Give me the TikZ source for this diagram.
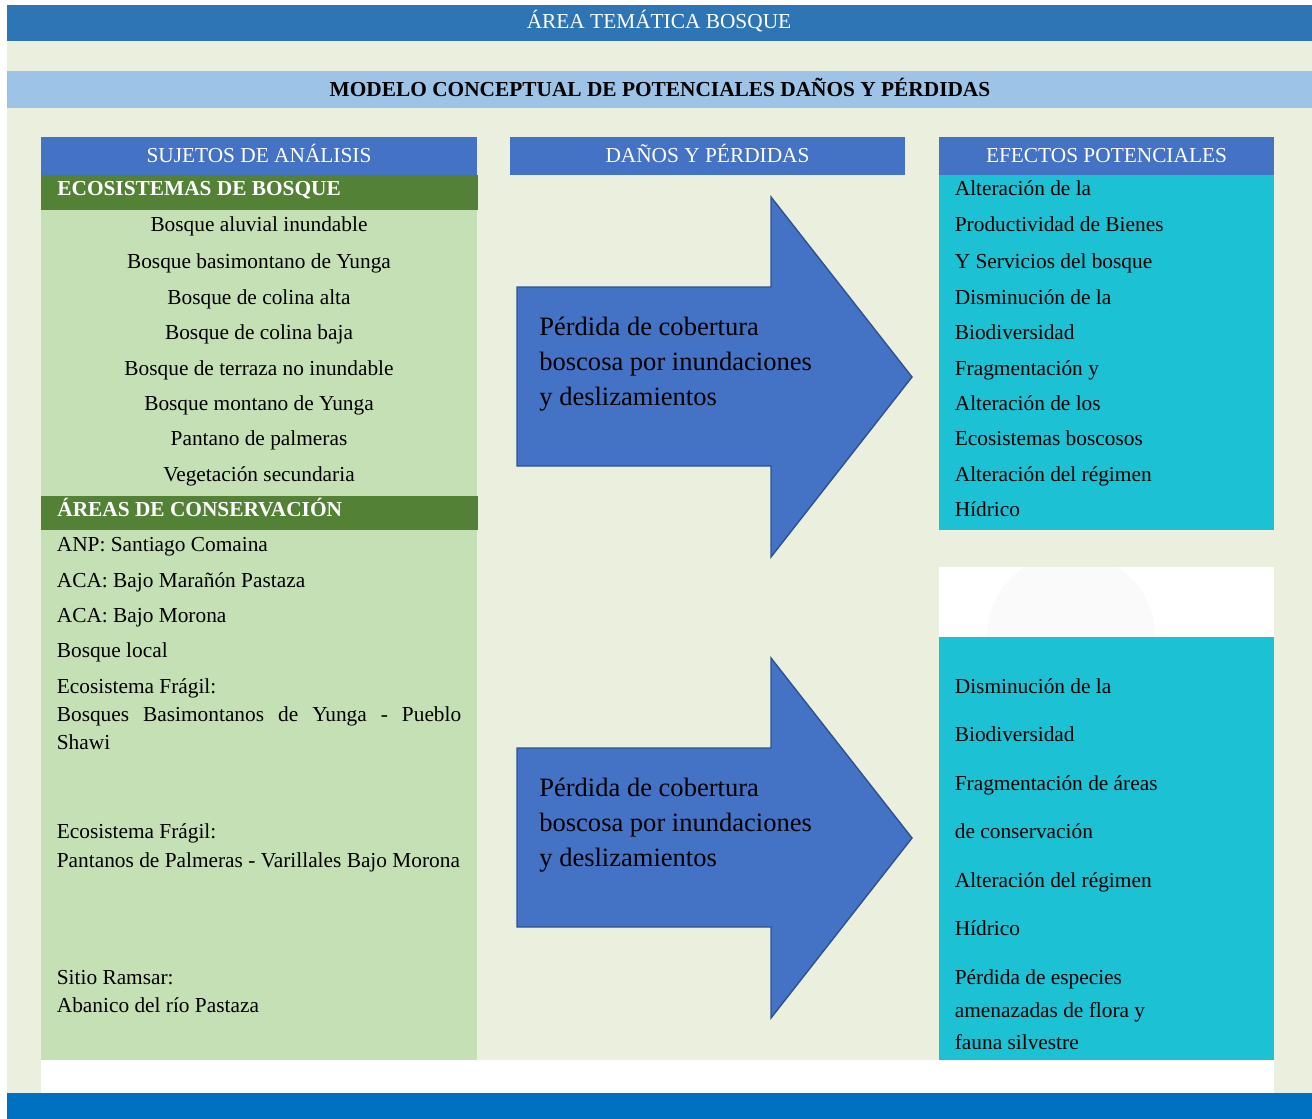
\documentclass[tikz,border=0pt]{standalone}
\usepackage{fontspec}
\setmainfont{Liberation Serif}
\definecolor{titleblue}{HTML}{2E75B6}
\definecolor{subblue}{HTML}{9DC3E6}
\definecolor{bgpale}{HTML}{EBF0DE}
\definecolor{hdrblue}{HTML}{4472C4}
\definecolor{leafgreen}{HTML}{538135}
\definecolor{palegreen}{HTML}{C5E0B4}
\definecolor{cyanbox}{HTML}{1CC2D4}
\definecolor{footblue}{HTML}{0070C0}
\definecolor{arrowline}{HTML}{2F528F}

\begin{document}
\begin{tikzpicture}[x=0.02cm, y=-0.02cm,
  txt/.style={anchor=base west, inner sep=0pt, font=\fontsize{12.15}{14}\selectfont},
  ctr/.style={anchor=base, inner sep=0pt, font=\fontsize{12.15}{14}\selectfont},
  hdr/.style={ctr, text=white},
  bar/.style={txt, text=white, font=\fontsize{12.15}{14}\selectfont\bfseries},
  big/.style={anchor=base west, inner sep=0pt, font=\fontsize{15.1}{18}\selectfont},
  bigarrow/.style={fill=hdrblue, draw=arrowline, line width=0.8pt, line join=miter}]
  \useasboundingbox (0,0) rectangle (1312,1119);
  \fill[white] (0,0) rectangle (1312,1119);
  \fill[bgpale] (7,41) rectangle (1312,1093);
  % title bands
  \fill[titleblue] (7,5) rectangle (1312,41);
  \node[hdr] (title) at (659,29) {ÁREA TEMÁTICA BOSQUE};
  \fill[subblue] (7,71) rectangle (1312,108);
  \node[ctr, font=\fontsize{12.15}{14}\selectfont\bfseries] (subtitle) at (660,96)
    {MODELO CONCEPTUAL DE POTENCIALES DAÑOS Y PÉRDIDAS};
  \fill[white] (41,1060) rectangle (1274,1093);
  \fill[footblue] (7,1093) rectangle (1312,1119);
  % column headers
  \foreach \xa/\xb/\name/\lbl in {41/477/suj/SUJETOS DE ANÁLISIS,
      510/905/dan/DAÑOS Y PÉRDIDAS, 939/1274/efe/EFECTOS POTENCIALES} {
    \fill[hdrblue] (\xa,137) rectangle (\xb,175);
    \node[hdr] (\name) at ({(\xa+\xb)/2},162) {\lbl};
  }
  % left column
  \fill[palegreen] (41,175) rectangle (477,1060);
  \fill[leafgreen] (41,175) rectangle (478,210);
  \fill[leafgreen] (41,496) rectangle (478,530);
  \node[bar] (ecobar) at (57,195) {ECOSISTEMAS DE BOSQUE};
  \node[bar] (areabar) at (57,516) {ÁREAS DE CONSERVACIÓN};
  \foreach \i/\py/\lbl in {1/231/Bosque aluvial inundable,
      2/268/Bosque basimontano de Yunga, 3/304/Bosque de colina alta,
      4/339/Bosque de colina baja, 5/375/Bosque de terraza no inundable,
      6/410/Bosque montano de Yunga, 7/445/Pantano de palmeras,
      8/481/Vegetación secundaria} {
    \node[ctr] (eco\i) at (259,\py) {\lbl};
  }
  \foreach \i/\py/\lbl in {1/551/ANP: Santiago Comaina,
      2/587/ACA: Bajo Marañón Pastaza, 3/622/ACA: Bajo Morona,
      4/657/Bosque local, 5/693/Ecosistema Frágil:,
      7/749/Shawi, 8/838/Ecosistema Frágil:,
      9/867/Pantanos de Palmeras - Varillales Bajo Morona,
      10/984/Sitio Ramsar:, 11/1012/Abanico del río Pastaza} {
    \node[txt] (con\i) at (56.5,\py) {\lbl};
  }
  \node[txt] (con6) at (56.5,721)
    {\makebox[8.09cm][s]{Bosques Basimontanos de Yunga - Pueblo}};
  % arrows
  \foreach \dy/\k in {0/1, 461/2} {
    \draw[bigarrow] (517,287+\dy) -- (771,287+\dy) -- (771,197+\dy)
      -- (912,377+\dy) -- (771,557+\dy) -- (771,466+\dy)
      -- (517,466+\dy) -- cycle;
    \node[big] (perd\k a) at (539,335+\dy) {Pérdida de cobertura};
    \node[big] (perd\k b) at (539,370+\dy) {boscosa por inundaciones};
    \node[big] (perd\k c) at (539,405+\dy) {y deslizamientos};
  }
  % right column
  \fill[cyanbox] (939,175) rectangle (1274,530);
  \fill[white] (939,567) rectangle (1274,637);
  \begin{scope}
    \clip (939,567) rectangle (1274,637);
    \fill[black!2] (1071,637) circle (84);
  \end{scope}
  \fill[cyanbox] (939,637) rectangle (1274,1060);
  \foreach \i/\py/\lbl in {1/195/Alteración de la,
      2/231/Productividad de Bienes, 3/268/Y Servicios del bosque,
      4/304/Disminución de la, 5/339/Biodiversidad, 6/375/Fragmentación y,
      7/410/Alteración de los, 8/445/Ecosistemas boscosos,
      9/481/Alteración del régimen, 10/516/Hídrico} {
    \node[txt] (efa\i) at (954.5,\py) {\lbl};
  }
  \foreach \i/\py/\lbl in {1/693/Disminución de la, 2/741/Biodiversidad,
      3/790/Fragmentación de áreas, 4/838/de conservación,
      5/887/Alteración del régimen, 6/935/Hídrico,
      7/984/Pérdida de especies, 8/1017/amenazadas de flora y,
      9/1049/fauna silvestre} {
    \node[txt] (efb\i) at (954.5,\py) {\lbl};
  }
\end{tikzpicture}
\end{document}
